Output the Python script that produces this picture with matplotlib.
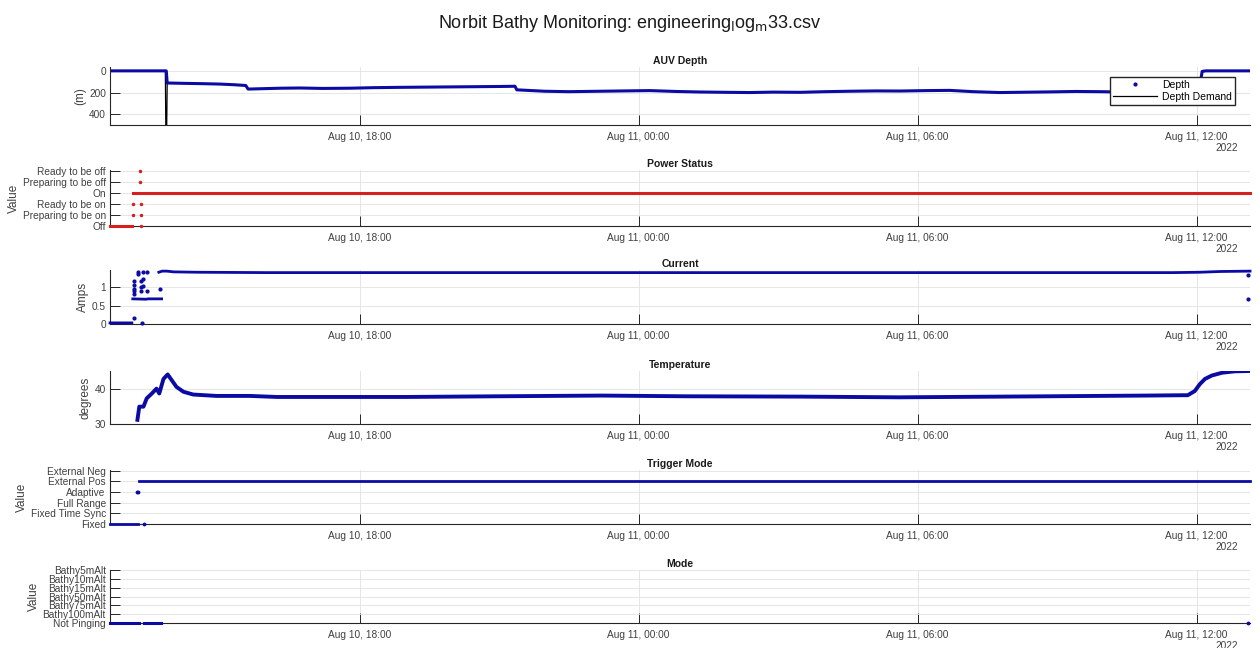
import numpy as np
import pandas as pd
import matplotlib
matplotlib.use("Agg")
import matplotlib.pyplot as plt
import matplotlib.dates as mdates
from matplotlib.lines import Line2D

plt.rcParams['font.family'] = ['Liberation Sans', 'DejaVu Sans']

# all times are hours after 2022-08-10 00:00
T_START, T_END = 12.63, 37.15

# AUV depth (m)
depth_t = [12.63, 13.84, 13.86, 14.2, 14.6, 15.0, 15.3, 15.55, 15.6, 15.86, 16.3, 16.72,
           17.2, 17.79, 18.3, 18.87, 19.4, 19.94, 20.5, 21.02, 21.34, 21.38, 21.98, 22.5,
           23.17, 23.7, 24.24, 24.8, 25.32, 25.9, 26.39, 26.9, 27.47, 28.0, 28.54, 29.1,
           29.62, 30.2, 30.69, 31.2, 31.77, 32.3, 32.85, 33.4, 33.92, 34.5, 35.0, 35.5,
           36.05, 36.12, 36.2, 37.15]
depth_v = [0, 0, 112, 115, 118, 122, 128, 135, 168, 165, 160, 158,
           162, 160, 155, 152, 150, 148, 146, 144, 142, 175, 188, 192,
           188, 185, 182, 190, 195, 198, 200, 196, 198, 192, 188, 185,
           186, 182, 180, 192, 200, 197, 194, 190, 192, 196, 198, 194,
           190, 5, 0, 0]
demand_t = [12.63, 13.82, 13.83, 13.85, 13.86]
demand_v = [0, 0, 500, 500, 115]

# power status
power_labels = ['Off', 'Preparing to be on', 'Ready to be on', 'On',
                'Preparing to be off', 'Ready to be off']
power_t = [12.63, 13.10, 13.11, 13.12, 37.15]
power_v = [0, 0, np.nan, 3, 3]
power_dot_t = [13.12, 13.30, 13.12, 13.30, 13.28, 13.28, 13.30]
power_dot_v = [2, 2, 1, 1, 5, 4, 0]

# current (A)
cur_t = [12.63, 13.10, 13.11, 13.12, 13.40, 13.45, 13.74, 13.75, 13.68, 13.75, 13.85,
         14.0, 14.5, 16.0, 20.0, 25.0, 30.0, 35.5, 36.07, 36.5, 37.15]
cur_v = [0.03, 0.03, np.nan, 0.68, 0.67, 0.68, 0.68, np.nan, 1.40, 1.43, 1.43,
         1.41, 1.40, 1.39, 1.39, 1.39, 1.39, 1.39, 1.40, 1.42, 1.43]
cur_dot_t = [13.15, 13.15, 13.15, 13.15, 13.15, 13.24, 13.24, 13.30, 13.30, 13.30,
             13.35, 13.35, 13.35, 13.42, 13.42, 13.71, 13.15, 13.31, 37.10, 37.10]
cur_dot_v = [1.16, 1.05, 0.96, 0.89, 0.80, 1.40, 1.34, 1.16, 1.01, 0.89,
             1.41, 1.22, 1.04, 1.41, 0.89, 0.94, 0.17, 0.03, 1.32, 0.68]

# temperature (degrees)
temp_t = [13.22, 13.26, 13.35, 13.42, 13.53, 13.63, 13.69, 13.78, 13.87, 13.96, 14.06,
          14.21, 14.42, 14.92, 15.64, 16.22, 17.15, 19.0, 21.0, 23.2, 25.0, 27.5,
          29.6, 31.8, 34.9, 35.7, 35.81, 35.96, 36.07, 36.18, 36.33, 36.55, 36.82, 37.15]
temp_v = [31.2, 35.0, 35.0, 37.4, 38.8, 40.2, 38.8, 43.0, 44.3, 42.6, 40.7,
          39.3, 38.5, 38.1, 38.1, 37.8, 37.8, 37.8, 38.0, 38.2, 38.0, 37.9,
          37.7, 37.9, 38.2, 38.3, 38.3, 39.5, 41.5, 43.0, 44.0, 44.8, 45.2, 45.3]

# trigger mode
trig_labels = ['Fixed', 'Fixed Time Sync', 'Full Range', 'Adaptive',
               'External Pos', 'External Neg']
trig_t = [12.63, 13.23, 13.24, 13.25, 37.15]
trig_v = [0, 0, np.nan, 4, 4]
trig_dot_t = [13.22, 13.23, 13.37]
trig_dot_v = [3, 3, 0]

# mode
mode_labels = ['Not Pinging', 'Bathy100mAlt', 'Bathy75mAlt', 'Bathy50mAlt',
               'Bathy15mAlt', 'Bathy10mAlt', 'Bathy5mAlt']
mode_t = [12.63, 13.25, 13.30, 13.36, 13.73]
mode_v = [0, 0, np.nan, 0, 0]
mode_dot_t = [37.10]
mode_dot_v = [0]

BLUE = '#0b0ba3'
RED = '#d62020'
AX_COL = '#262626'
TXT_COL = '#404040'
BASE = pd.Timestamp('2022-08-10')


def tt(hours):
    return BASE + pd.to_timedelta(np.asarray(hours, dtype=float), unit='h')


def style(ax, title, ylabel):
    ax.set_xlim(tt([T_START])[0], tt([T_END])[0])
    ax.xaxis.set_major_locator(mdates.HourLocator(byhour=[0, 6, 12, 18]))
    ax.xaxis.set_major_formatter(mdates.DateFormatter('%b %d, %H:%M'))
    for s in ('top', 'right'):
        ax.spines[s].set_visible(False)
    for s in ('left', 'bottom'):
        ax.spines[s].set_color(AX_COL)
        ax.spines[s].set_linewidth(0.8)
    ax.tick_params(direction='in', length=7, width=0.7, color=AX_COL,
                   labelcolor=TXT_COL, labelsize=7.3, pad=3)
    ax.tick_params(axis='x', pad=5)
    ax.grid(True, color='#e2e2e2', lw=0.6)
    ax.set_axisbelow(True)
    ax.set_title(title, fontsize=7.5, fontweight='bold', pad=2, color='#1a1a1a')
    ax.set_ylabel(ylabel, fontsize=8.5, color=TXT_COL, labelpad=2)
    ax.annotate('2022', xy=(1, 0), xycoords='axes fraction', xytext=(-12, -18),
                textcoords='offset pixels', ha='right', va='top', fontsize=7.3,
                color=TXT_COL)


fig = plt.figure(figsize=(12.6, 6.48), dpi=100)
L, W = 0.0873, 0.9048
ax1 = fig.add_axes([L, 0.807, W, 0.0895])
ax2 = fig.add_axes([L, 0.651, W, 0.0864])
ax3 = fig.add_axes([L, 0.500, W, 0.0833])
ax4 = fig.add_axes([L, 0.3457, W, 0.0818])
ax5 = fig.add_axes([L, 0.1914, W, 0.0833])
ax6 = fig.add_axes([L, 0.0386, W, 0.0818])

# depth
ax1.plot(tt(demand_t), demand_v, color='black', lw=0.9)
ax1.plot(tt(depth_t), depth_v, color=BLUE, lw=2.2)
ax1.set_ylim(500, -35)
ax1.set_yticks([0, 200, 400])
style(ax1, 'AUV Depth', '(m)')
handles = [Line2D([], [], color=BLUE, marker='.', ls='none', markersize=4),
           Line2D([], [], color='black', lw=0.9)]
ax1.legend(handles, ['Depth', 'Depth Demand'], loc='upper right',
           bbox_to_anchor=(0.987, 0.83), fontsize=7.5, frameon=True, fancybox=False,
           edgecolor=AX_COL, framealpha=1, handlelength=4.2, borderpad=0.3,
           labelspacing=0.15, handletextpad=0.5, borderaxespad=0)

# power status
ax2.plot(tt(power_t), power_v, color=RED, lw=2.2, clip_on=False, zorder=3)
ax2.plot(tt(power_dot_t), power_dot_v, '.', color=RED, markersize=3, clip_on=False, zorder=3)
ax2.set_ylim(0, 5.05)
ax2.set_yticks(range(len(power_labels)))
ax2.set_yticklabels(power_labels)
style(ax2, 'Power Status', 'Value')

# current
ax3.plot(tt(cur_t), cur_v, color=BLUE, lw=2.0, clip_on=False, zorder=3)
ax3.plot(tt(cur_dot_t), cur_dot_v, '.', color=BLUE, markersize=4, clip_on=False, zorder=3)
ax3.set_ylim(0, 1.46)
ax3.set_yticks([0, 0.5, 1])
ax3.set_yticklabels(['0', '0.5', '1'])
style(ax3, 'Current', 'Amps')

# temperature
ax4.plot(tt(temp_t), temp_v, color=BLUE, lw=2.8)
ax4.set_ylim(30, 45.3)
ax4.set_yticks([30, 40])
style(ax4, 'Temperature', 'degrees')

# trigger mode
ax5.plot(tt(trig_t), trig_v, color=BLUE, lw=2.0, clip_on=False, zorder=3)
ax5.plot(tt(trig_dot_t), trig_dot_v, '.', color=BLUE, markersize=3.5, clip_on=False, zorder=3)
ax5.set_ylim(0, 5.05)
ax5.set_yticks(range(len(trig_labels)))
ax5.set_yticklabels(trig_labels)
style(ax5, 'Trigger Mode', 'Value')

# mode
ax6.plot(tt(mode_t), mode_v, color=BLUE, lw=2.2, clip_on=False, zorder=3)
ax6.plot(tt(mode_dot_t), mode_dot_v, '.', color=BLUE, markersize=3.5, clip_on=False, zorder=3)
ax6.set_ylim(0, 6.05)
ax6.set_yticks(range(len(mode_labels)))
ax6.set_yticklabels(mode_labels)
style(ax6, 'Mode', 'Value')

fig.suptitle(r'Norbit Bathy Monitoring: engineering$_{\mathrm{l}}$og$_{\mathrm{m}}$33.csv',
             y=0.98, fontsize=13, color='#1a1a1a')

fig.savefig('out.png', dpi=100)
